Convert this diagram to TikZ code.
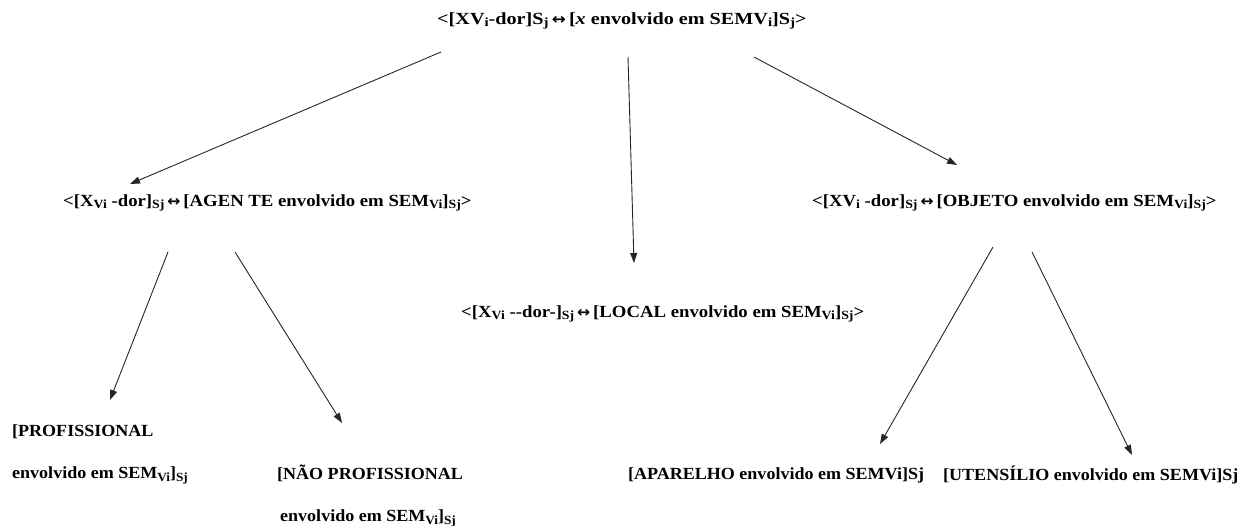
\documentclass[tikz,border=0pt]{standalone}
\usepackage{fontspec}
\setmainfont{Liberation Serif}[FakeStretch=1.06]
\newfontfamily\arrfont{DejaVu Sans}
\usetikzlibrary{arrows.meta}
\newcommand{\lo}[1]{\raisebox{-0.3ex}{\fontsize{12.5}{12.5}\selectfont #1}}
\newcommand{\dbl}{\,{\arrfont\fontsize{15}{15}\selectfont ↔}\,}
\begin{document}
\begin{tikzpicture}[x=1pt,y=-1pt,
  lbl/.style={anchor=west,inner sep=0pt,font=\fontsize{17}{17}\selectfont\bfseries},
  two/.style={lbl,anchor=north west,align=left,font=\fontsize{17}{42}\selectfont\bfseries},
  arr/.style={-{Triangle[length=10pt,width=7pt]},line width=0.9pt,draw=black!85}]
\useasboundingbox (0,0) rectangle (1251,526);

% constructional schema and its three subschemas
\node[lbl] (top) at (437,21) {\scalebox{1.12}[1]{<[XV\lo{i}-dor]S\lo{j}\dbl[\textit{x} envolvido em SEMV\lo{i}]S\lo{j}>}};
\node[lbl] (agente) at (63,203) {\scalebox{1.04}[1]{<[X\lo{Vi} -dor]\lo{Sj}\dbl[AGEN TE envolvido em SEM\lo{Vi}]\lo{Sj}>}};
\node[lbl] (objeto) at (812,203) {\scalebox{1.04}[1]{<[XV\lo{i} -dor]\lo{Sj}\dbl[OBJETO envolvido em SEM\lo{Vi}]\lo{Sj}>}};
\node[lbl] (local) at (461,314) {\scalebox{1.04}[1]{<[X\lo{Vi} -{}-dor-]\lo{Sj}\dbl[LOCAL envolvido em SEM\lo{Vi}]\lo{Sj}>}};

% lower level
\node[two] (prof) at (12,425) {[PROFISSIONAL\\envolvido em SEM\lo{Vi}]\lo{Sj}};
\node[two] (naoprof) at (277,465) {[NÃO PROFISSIONAL\\\hspace*{3pt}envolvido em SEM\lo{Vi}]\lo{Sj}};
\node[lbl] (aparelho) at (628,475) {[APARELHO envolvido em SEMVi]Sj};
\node[lbl] (utensilio) at (943,475) {[UTENSÍLIO envolvido em SEMVi]Sj};

% connector ends
\coordinate (t1) at (441,52);  \coordinate (a1) at (130,184);
\coordinate (t2) at (628,57);  \coordinate (l1) at (634,263);
\coordinate (t3) at (754,57);  \coordinate (o1) at (957,165);
\coordinate (g1) at (168,252); \coordinate (p1) at (110,400);
\coordinate (g2) at (235,252); \coordinate (n1) at (342,423);
\coordinate (b1) at (993,247); \coordinate (ap1) at (880,444);
\coordinate (b2) at (1032,252);\coordinate (u1) at (1132,455);

\draw[arr] (t1) -- (a1);
\draw[arr] (t2) -- (l1);
\draw[arr] (t3) -- (o1);
\draw[arr] (g1) -- (p1);
\draw[arr] (g2) -- (n1);
\draw[arr] (b1) -- (ap1);
\draw[arr] (b2) -- (u1);
\end{tikzpicture}
\end{document}
